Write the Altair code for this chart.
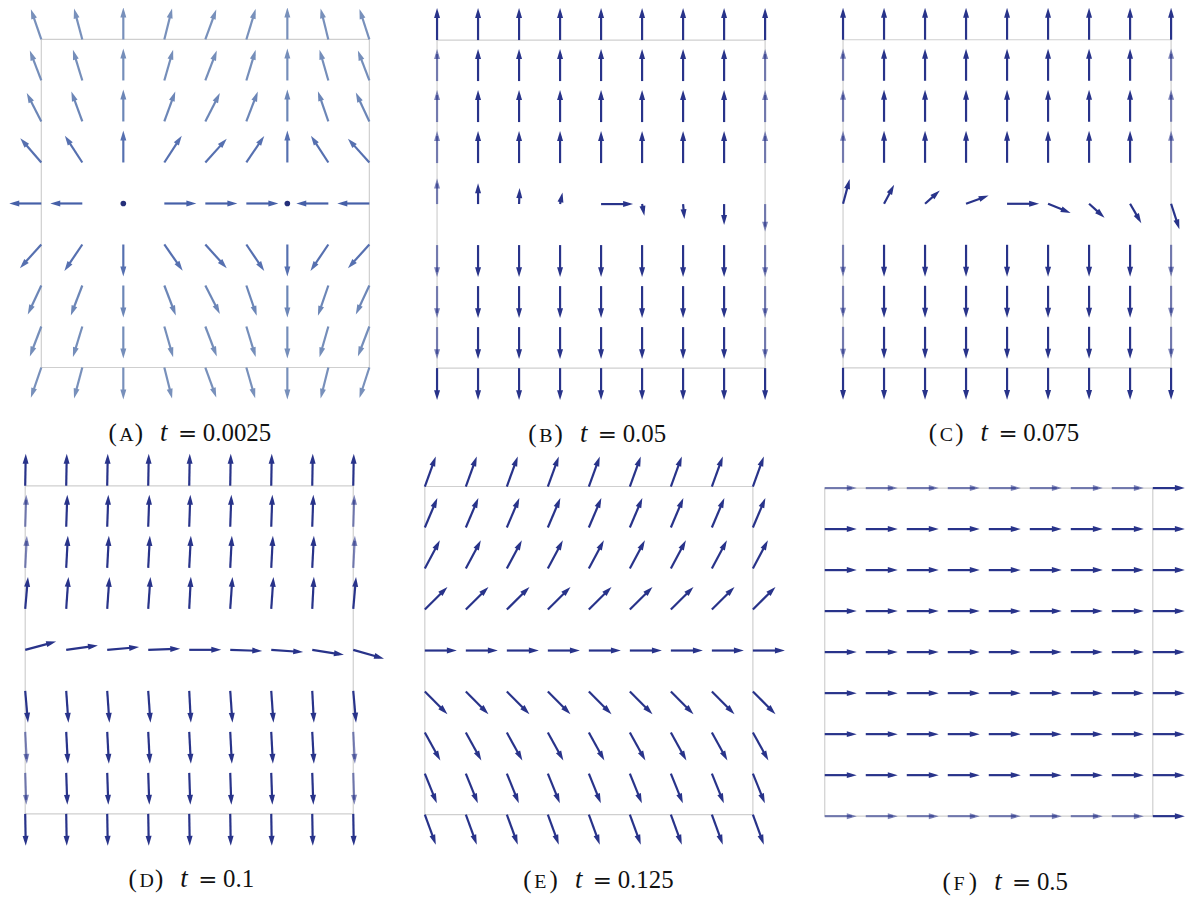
import math
import altair as alt
import pandas as pd

# ---------------- data ----------------
PANEL_LETTERS = ["A", "B", "C", "D", "E", "F"]
T_VALUES = ["0.0025", "0.05", "0.075", "0.1", "0.125", "0.5"]

# arrow directions (degrees, counter-clockwise from +x); rows top -> bottom, columns left -> right
ANGLES_A = [
    [109, 105, 90, 76, 70, 73, 90, 104, 108],
    [111, 107, 90, 74, 69, 73, 90, 106, 111],
    [117, 110, 90, 70, 63, 69, 90, 109, 115],
    [131, 123, 90, 57, 48, 56, 90, 123, 132],
    [180, 180, 0, 0, 0, 0, 0, 180, 180],
    [228, 236, 270, 305, 312, 304, 270, 236, 228],
    [245, 249, 270, 291, 297, 289, 270, 251, 245],
    [249, 253, 270, 286, 291, 287, 270, 254, 249],
    [251, 255, 270, 284, 290, 286, 270, 256, 252],
]
LENGTHS_A = [
    [1, 1, 1, 1, 1, 1, 1, 1, 1],
    [1, 1, 1, 1, 1, 1, 1, 1, 1],
    [1, 1, 1, 1, 1, 1, 1, 1, 1],
    [1, 1, 1, 1, 1, 1, 1, 1, 1],
    [1, 1, 0, 1, 1, 1, 0, 1, 1],
    [1, 1, 1, 1, 1, 1, 1, 1, 1],
    [1, 1, 1, 1, 1, 1, 1, 1, 1],
    [1, 1, 1, 1, 1, 1, 1, 1, 1],
    [1, 1, 1, 1, 1, 1, 1, 1, 1],
]
ANGLES_B = [
    [90, 90, 90, 90, 90, 90, 90, 90, 90],
    [90, 90, 90, 90, 90, 90, 90, 90, 90],
    [90, 90, 90, 90, 90, 90, 90, 90, 90],
    [90, 90, 90, 90, 90, 90, 90, 90, 90],
    [90, 90, 88, 78, 0, 281, 275, 270, 270],
    [270, 270, 270, 270, 270, 270, 270, 270, 270],
    [270, 270, 270, 270, 270, 270, 270, 270, 270],
    [270, 270, 270, 270, 270, 270, 270, 270, 270],
    [270, 270, 270, 270, 270, 270, 270, 270, 270],
]
LENGTHS_B = [
    [1, 1, 1, 1, 1, 1, 1, 1, 1],
    [1, 1, 1, 1, 1, 1, 1, 1, 1],
    [1, 1, 1, 1, 1, 1, 1, 1, 1],
    [1, 1, 1, 1, 1, 1, 1, 1, 1],
    [0.80, 0.65, 0.50, 0.37, 1.0, 0.37, 0.47, 0.65, 0.86],
    [1, 1, 1, 1, 1, 1, 1, 1, 1],
    [1, 1, 1, 1, 1, 1, 1, 1, 1],
    [1, 1, 1, 1, 1, 1, 1, 1, 1],
    [1, 1, 1, 1, 1, 1, 1, 1, 1],
]
ANGLES_C = [
    [90, 90, 90, 90, 90, 90, 90, 90, 90],
    [90, 90, 90, 90, 90, 90, 90, 90, 90],
    [90, 90, 90, 90, 90, 90, 90, 90, 90],
    [90, 90, 90, 90, 90, 90, 90, 90, 90],
    [75, 62, 42, 20, 0, 338, 318, 300, 288],
    [270, 270, 270, 270, 270, 270, 270, 270, 270],
    [270, 270, 270, 270, 270, 270, 270, 270, 270],
    [270, 270, 270, 270, 270, 270, 270, 270, 270],
    [270, 270, 270, 270, 270, 270, 270, 270, 270],
]
LENGTHS_C = [
    [1, 1, 1, 1, 1, 1, 1, 1, 1],
    [1, 1, 1, 1, 1, 1, 1, 1, 1],
    [1, 1, 1, 1, 1, 1, 1, 1, 1],
    [1, 1, 1, 1, 1, 1, 1, 1, 1],
    [0.80, 0.67, 0.62, 0.75, 1.0, 0.76, 0.65, 0.70, 0.84],
    [1, 1, 1, 1, 1, 1, 1, 1, 1],
    [1, 1, 1, 1, 1, 1, 1, 1, 1],
    [1, 1, 1, 1, 1, 1, 1, 1, 1],
    [1, 1, 1, 1, 1, 1, 1, 1, 1],
]
ANGLES_D = [
    [89, 89, 89, 89, 89, 89, 89, 89, 89],
    [88, 88, 88, 88, 88, 88, 88, 88, 88],
    [87, 87, 87, 87, 87, 87, 87, 87, 87],
    [85, 86, 86, 86, 87, 86, 86, 87, 85],
    [15, 8, 5, 2, 0, 358, 356, 351, 344],
    [275, 274, 274, 274, 273, 274, 274, 273, 275],
    [273, 273, 273, 273, 273, 273, 273, 273, 273],
    [272, 272, 272, 272, 272, 272, 272, 272, 272],
    [271, 271, 271, 271, 271, 271, 271, 271, 271],
]
LENGTHS_D = [
    [1, 1, 1, 1, 1, 1, 1, 1, 1],
    [1, 1, 1, 1, 1, 1, 1, 1, 1],
    [1, 1, 1, 1, 1, 1, 1, 1, 1],
    [1, 1, 1, 1, 1, 1, 1, 1, 1],
    [1, 1, 1, 1, 1, 1, 1, 1, 1],
    [1, 1, 1, 1, 1, 1, 1, 1, 1],
    [1, 1, 1, 1, 1, 1, 1, 1, 1],
    [1, 1, 1, 1, 1, 1, 1, 1, 1],
    [1, 1, 1, 1, 1, 1, 1, 1, 1],
]
ANGLES_E = [
    [70, 70, 70, 70, 70, 70, 70, 70, 70],
    [67, 67, 67, 67, 67, 67, 67, 67, 67],
    [62, 62, 62, 62, 62, 62, 62, 62, 62],
    [45, 45, 45, 45, 45, 45, 45, 45, 45],
    [0, 0, 0, 0, 0, 0, 0, 0, 0],
    [315, 315, 315, 315, 315, 315, 315, 315, 315],
    [299, 299, 299, 299, 299, 299, 299, 299, 299],
    [292, 292, 292, 292, 292, 292, 292, 292, 292],
    [290, 290, 290, 290, 290, 290, 290, 290, 290],
]
LENGTHS_E = [
    [1, 1, 1, 1, 1, 1, 1, 1, 1],
    [1, 1, 1, 1, 1, 1, 1, 1, 1],
    [1, 1, 1, 1, 1, 1, 1, 1, 1],
    [1, 1, 1, 1, 1, 1, 1, 1, 1],
    [1, 1, 1, 1, 1, 1, 1, 1, 1],
    [1, 1, 1, 1, 1, 1, 1, 1, 1],
    [1, 1, 1, 1, 1, 1, 1, 1, 1],
    [1, 1, 1, 1, 1, 1, 1, 1, 1],
    [1, 1, 1, 1, 1, 1, 1, 1, 1],
]
ANGLES_F = [
    [0, 0, 0, 0, 0, 0, 0, 0, 0],
    [0, 0, 0, 0, 0, 0, 0, 0, 0],
    [0, 0, 0, 0, 0, 0, 0, 0, 0],
    [0, 0, 0, 0, 0, 0, 0, 0, 0],
    [0, 0, 0, 0, 0, 0, 0, 0, 0],
    [0, 0, 0, 0, 0, 0, 0, 0, 0],
    [0, 0, 0, 0, 0, 0, 0, 0, 0],
    [0, 0, 0, 0, 0, 0, 0, 0, 0],
    [0, 0, 0, 0, 0, 0, 0, 0, 0],
]
LENGTHS_F = [
    [1, 1, 1, 1, 1, 1, 1, 1, 1],
    [1, 1, 1, 1, 1, 1, 1, 1, 1],
    [1, 1, 1, 1, 1, 1, 1, 1, 1],
    [1, 1, 1, 1, 1, 1, 1, 1, 1],
    [1, 1, 1, 1, 1, 1, 1, 1, 1],
    [1, 1, 1, 1, 1, 1, 1, 1, 1],
    [1, 1, 1, 1, 1, 1, 1, 1, 1],
    [1, 1, 1, 1, 1, 1, 1, 1, 1],
    [1, 1, 1, 1, 1, 1, 1, 1, 1],
]

# ---------------- styling / layout ----------------
NAVY = "#28338a"
A_ROW_COLORS = ["#7890bb", "#758eba", "#6c86b7", "#5670b0", "#4660a8",
                "#5670b0", "#6c86b7", "#758eba", "#7890bb"]
DOT_COLOR = "#25307a"
FRAME_COLOR = "#cfcfcf"
SERIF = "Liberation Serif"
EQ_FONT = "DejaVu Serif"

PANEL_W = 330.0               # frame size in px
U = PANEL_W / 8.0             # px per grid unit
FULL = 32.2 / U               # full arrow length (grid units)
HEAD = 10.0 / U               # head length (grid units)
HEAD_PATH = "M0,0L-2,-0.6L-2,0.6Z"   # tip at origin, pointing +x

COL_WIDTHS = [400, 400, 353]
ROW_HEIGHTS = [449, 412]
FRAME_OFFSETS = [(16.5, 0.0), (14.6, 0.6), (23.0, 0.3),
                 (0.3, 0.0), (2.3, 0.7), (4.6, 2.3)]
CAP_LEFT = [67.5, 91.7, 86.3, 104.0, 99.0, 118.4]

ALL_ANGLES = [ANGLES_A, ANGLES_B, ANGLES_C, ANGLES_D, ANGLES_E, ANGLES_F]
ALL_LENGTHS = [LENGTHS_A, LENGTHS_B, LENGTHS_C, LENGTHS_D, LENGTHS_E, LENGTHS_F]


def arrows_df(angles, lengths, row_colors):
    recs = []
    for r in range(9):
        for c in range(9):
            a = angles[r][c]
            L = lengths[r][c]
            gx, gy = c, 8 - r
            ln = L * FULL
            ca, sa = math.cos(math.radians(a)), math.sin(math.radians(a))
            tx, ty = gx + ln * ca, gy + ln * sa
            sl = max(ln - 0.5 * HEAD, 0.0)
            sx, sy = gx + sl * ca, gy + sl * sa
            on_edge = ln > 0 and (
                (gx in (0, 8) and abs(tx - gx) < 0.05 and -1e-9 <= ty <= 8 + 1e-9)
                or (gy in (0, 8) and abs(ty - gy) < 0.05 and -1e-9 <= tx <= 8 + 1e-9)
            )
            recs.append(dict(gx=gx, gy=gy, tx=tx, ty=ty, sx=sx, sy=sy,
                             rot=(360 - a) % 360, L=L, col=row_colors[r],
                             op=0.6 if on_edge else 1.0))
    return pd.DataFrame(recs)


def panel(i):
    ox, oy = FRAME_OFFSETS[i]
    W = COL_WIDTHS[i % 3]
    H = ROW_HEIGHTS[i // 3]
    xs = alt.Scale(domain=[-ox / U, (W - ox) / U], nice=False, zero=False)
    ys = alt.Scale(domain=[8 - (H - oy) / U, 8 + oy / U], nice=False, zero=False)

    colors = A_ROW_COLORS if i == 0 else [NAVY] * 9
    df = arrows_df(ALL_ANGLES[i], ALL_LENGTHS[i], colors)
    base = alt.Chart(df)

    frame = alt.Chart(pd.DataFrame({"x0": [0], "x1": [8], "y0": [0], "y1": [8]})).mark_rect(
        fill="white", fillOpacity=0, stroke=FRAME_COLOR, strokeWidth=1.2
    ).encode(
        x=alt.X("x0:Q", scale=xs, axis=None), x2="x1:Q",
        y=alt.Y("y0:Q", scale=ys, axis=None), y2="y1:Q",
    )
    shafts = base.transform_filter("datum.L > 0").mark_rule(
        strokeWidth=2.2, strokeCap="butt"
    ).encode(
        x=alt.X("gx:Q", scale=xs, axis=None), y=alt.Y("gy:Q", scale=ys, axis=None),
        x2="sx:Q", y2="sy:Q",
        color=alt.Color("col:N", scale=None),
        opacity=alt.Opacity("op:Q", scale=None),
    )
    heads = base.transform_filter("datum.L > 0").mark_point(
        shape=HEAD_PATH, filled=True, size=100, strokeWidth=0
    ).encode(
        x=alt.X("tx:Q", scale=xs, axis=None), y=alt.Y("ty:Q", scale=ys, axis=None),
        angle=alt.Angle("rot:Q", scale=None),
        color=alt.Color("col:N", scale=None),
        opacity=alt.Opacity("op:Q", scale=None),
    )
    dots = base.transform_filter("datum.L == 0").mark_circle(
        size=32, opacity=1, color=DOT_COLOR
    ).encode(
        x=alt.X("gx:Q", scale=xs, axis=None), y=alt.Y("gy:Q", scale=ys, axis=None),
    )

    cx = ox + CAP_LEFT[i]
    cy = oy + 404
    pieces = [
        ("(", 0.0, 25, "normal", SERIF),
        (PANEL_LETTERS[i], 11.0, 20, "normal", SERIF),
        (")", 26.5, 25, "normal", SERIF),
        ("t", 52.0, 27, "italic", SERIF),
        ("=", 70.0, 23, "normal", EQ_FONT),
        (T_VALUES[i], 95.0, 25, "normal", SERIF),
    ]
    texts = []
    for s, dx, fs, st, fnt in pieces:
        texts.append(
            alt.Chart(pd.DataFrame({"s": [s]})).mark_text(
                align="left", baseline="alphabetic", font=fnt,
                fontSize=fs, fontStyle=st, color="#111111"
            ).encode(text="s:N", x=alt.value(cx + dx), y=alt.value(cy))
        )

    return alt.layer(frame, shafts, heads, dots, *texts).properties(width=W, height=H)


chart = alt.concat(
    *[panel(i) for i in range(6)], columns=3, spacing=0, bounds="flush"
).configure_view(stroke="transparent").properties(
    padding={"left": 0, "top": -4, "right": 0, "bottom": 0}, background="white"
)

chart.save("out.html", embed_options={"renderer": "svg", "actions": False})
